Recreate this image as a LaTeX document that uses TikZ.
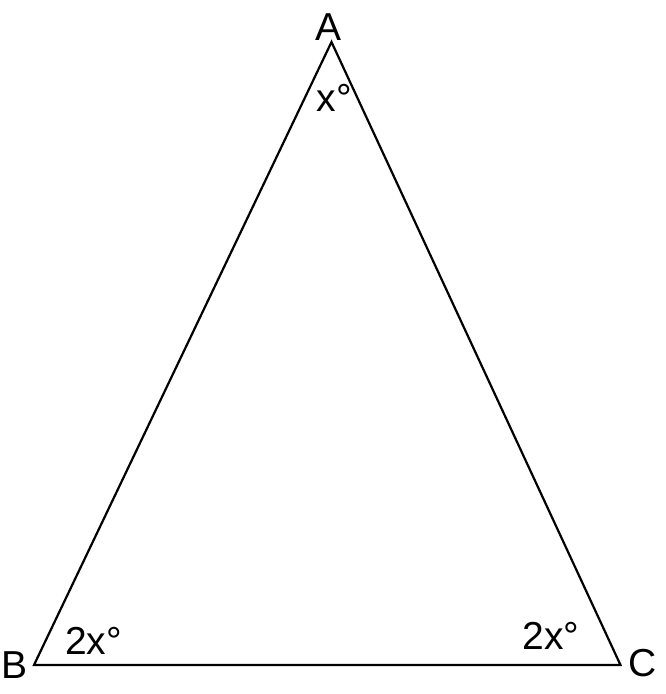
\documentclass[tikz,border=0pt]{standalone}
\usepackage{fontspec}
\setmainfont{Liberation Sans}
\tikzset{
	lbl/.style = {anchor=base, inner sep=0pt, font=\fontsize{39}{46}\selectfont},
	side/.style = {line width=2.2pt, line join=miter}
}
\begin{document}
\begin{tikzpicture}[x=1pt, y=1pt]
		\useasboundingbox (0,0) rectangle (665,694);
		\coordinate (A) at (331.5, 652);
		\coordinate (B) at (34, 29);
		\coordinate (C) at (620.5, 29);
		
		\draw [side] (A) -- (B) -- (C) -- cycle;
		
		\node [lbl] (labA) at (329, 653) {A};
		\node [lbl] (labB) at (15, 16) {B};
		\node [lbl] (labC) at (643, 17) {C};
		
		\node [lbl] (angA) at (334.5, 582) {x°};
		\node [lbl] (angB) at (93.5, 39) {2x°};
		\node [lbl] (angC) at (551, 44) {2x°};
		
		\end{tikzpicture}
\end{document}
